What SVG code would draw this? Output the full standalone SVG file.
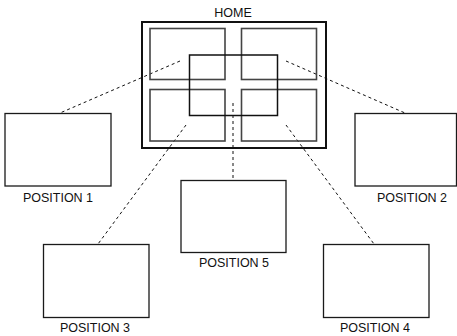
<svg xmlns="http://www.w3.org/2000/svg" width="457" height="336" viewBox="0 0 457 336">
<style>
  .bg { fill: #ffffff; }
  .box { fill: none; stroke: #1a1a1a; stroke-width: 1.3; }
  .outer { fill: none; stroke: #111; stroke-width: 2; }
  .cell { fill: none; stroke: #444; stroke-width: 1.6; }
  .center { fill: none; stroke: #111; stroke-width: 1.5; }
  .dash { fill: none; stroke: #111; stroke-width: 1; stroke-dasharray: 3 3; }
  .lbl { font-family: "Liberation Sans", Arial, sans-serif; font-size: 12.5px; fill: #111; text-anchor: middle; }
</style>
<rect class="bg" x="0" y="0" width="457" height="336"/>
<g id="connectors">
  <line class="dash" x1="180" y1="61" x2="60" y2="113"/>
  <line class="dash" x1="286" y1="61" x2="405" y2="113"/>
  <line class="dash" x1="186" y1="125" x2="98" y2="244"/>
  <line class="dash" x1="286" y1="125" x2="374" y2="244"/>
  <line class="dash" x1="233" y1="103" x2="233" y2="181"/>
</g>
<g id="home">
  <rect class="outer" x="142" y="22" width="184" height="126"/>
  <rect class="cell" x="150" y="28.5" width="75" height="51"/>
  <rect class="cell" x="241.5" y="28.5" width="75" height="51"/>
  <rect class="cell" x="150" y="89.5" width="75" height="51.5"/>
  <rect class="cell" x="241.5" y="89.5" width="75" height="51.5"/>
  <rect class="center" x="189.5" y="55" width="88" height="60.5"/>
  <text class="lbl" x="233" y="17">HOME</text>
</g>
<g id="position1">
  <rect class="box" x="5" y="113.5" width="106" height="72.5"/>
  <text class="lbl" x="58" y="202">POSITION 1</text>
</g>
<g id="position2">
  <rect class="box" x="355" y="113.5" width="101.5" height="72.5"/>
  <text class="lbl" x="412" y="202">POSITION 2</text>
</g>
<g id="position5">
  <rect class="box" x="181" y="180.5" width="105" height="72"/>
  <text class="lbl" x="234" y="267">POSITION 5</text>
</g>
<g id="position3">
  <rect class="box" x="43.5" y="244.5" width="105.5" height="73"/>
  <text class="lbl" x="95" y="332">POSITION 3</text>
</g>
<g id="position4">
  <rect class="box" x="323.5" y="244.5" width="105.5" height="73"/>
  <text class="lbl" x="375" y="332">POSITION 4</text>
</g>
</svg>
